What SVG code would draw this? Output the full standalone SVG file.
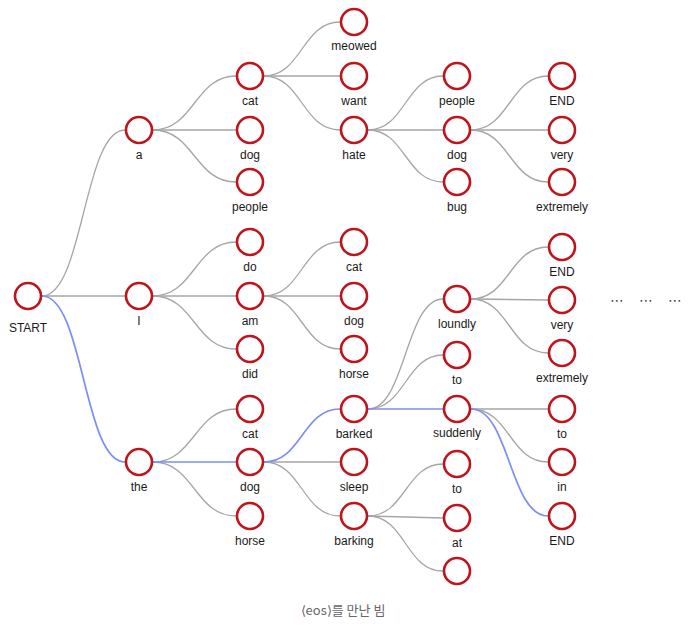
<svg xmlns="http://www.w3.org/2000/svg" width="693" height="627" viewBox="0 0 693 627">
<style>
.e{fill:none;stroke:#a6a6a6;stroke-width:1.3}
.b{fill:none;stroke:#7b8ef7;stroke-width:1.7}
.n circle{fill:#fff;stroke:#c0141c;stroke-width:2.6}
.n text{font-family:"Liberation Sans",Arial,sans-serif;font-size:12px;fill:#1a1a1a;text-anchor:middle}
.cap{font-family:"Noto Sans CJK KR","Noto Sans",sans-serif;font-size:13px;fill:#666;text-anchor:middle}
.dots{font-family:"DejaVu Sans",sans-serif;font-size:14px;fill:#444;text-anchor:middle}
</style>
<rect width="693" height="627" fill="#fff"/>
<g id="connectors">
<path class="e" d="M42,296 C83.5,296 83.5,130 125,130"/>
<path class="e" d="M42,296 L125,296"/>
<path class="e" d="M153,130 C194.5,130 194.5,76 236,76"/>
<path class="e" d="M153,130 L236,130"/>
<path class="e" d="M153,130 C194.5,130 194.5,182 236,182"/>
<path class="e" d="M153,296 C194.5,296 194.5,242 236,242"/>
<path class="e" d="M153,296 L236,296"/>
<path class="e" d="M153,296 C194.5,296 194.5,349 236,349"/>
<path class="e" d="M153,462 C194.5,462 194.5,409 236,409"/>
<path class="e" d="M153,462 C194.5,462 194.5,516 236,516"/>
<path class="e" d="M264,76 C302,76 302,22 340,22"/>
<path class="e" d="M264,76 L340,76"/>
<path class="e" d="M264,76 C302,76 302,130 340,130"/>
<path class="e" d="M264,296 C302,296 302,242 340,242"/>
<path class="e" d="M264,296 L340,296"/>
<path class="e" d="M264,296 C302,296 302,349 340,349"/>
<path class="e" d="M264,462 L340,462"/>
<path class="e" d="M264,462 C302,462 302,516 340,516"/>
<path class="e" d="M368,130 C405.5,130 405.5,76 443,76"/>
<path class="e" d="M368,130 L443,130"/>
<path class="e" d="M368,130 C405.5,130 405.5,182 443,182"/>
<path class="e" d="M368,409 C405.5,409 405.5,299 443,299"/>
<path class="e" d="M368,409 C405.5,409 405.5,355 443,355"/>
<path class="e" d="M368,516 C405.5,516 405.5,464 443,464"/>
<path class="e" d="M368,516 L443,518"/>
<path class="e" d="M368,516 C405.5,516 405.5,571 443,571"/>
<path class="e" d="M471,130 C509.5,130 509.5,76 548,76"/>
<path class="e" d="M471,130 L548,130"/>
<path class="e" d="M471,130 C509.5,130 509.5,182 548,182"/>
<path class="e" d="M471,299 C509.5,299 509.5,247 548,247"/>
<path class="e" d="M471,299 L548,300"/>
<path class="e" d="M471,299 C509.5,299 509.5,353 548,353"/>
<path class="e" d="M471,409 L548,409"/>
<path class="e" d="M471,409 C509.5,409 509.5,462 548,462"/>
<path class="b" d="M42,296 C83.5,296 83.5,462 125,462"/>
<path class="b" d="M153,462 L236,462"/>
<path class="b" d="M264,462 C302,462 302,409 340,409"/>
<path class="b" d="M368,409 L443,409"/>
<path class="b" d="M471,409 C509.5,409 509.5,516 548,516"/>
</g>
<g id="n-start" class="n"><circle cx="28" cy="296" r="13"/><text x="28" y="332">START</text></g>
<g id="n-a" class="n"><circle cx="139" cy="130" r="13"/><text x="139" y="159">a</text></g>
<g id="n-i" class="n"><circle cx="139" cy="296" r="13"/><text x="139" y="325">I</text></g>
<g id="n-the" class="n"><circle cx="139" cy="462" r="13"/><text x="139" y="491">the</text></g>
<g id="n-a-cat" class="n"><circle cx="250" cy="76" r="13"/><text x="250" y="105">cat</text></g>
<g id="n-a-dog" class="n"><circle cx="250" cy="130" r="13"/><text x="250" y="159">dog</text></g>
<g id="n-a-people" class="n"><circle cx="250" cy="182" r="13"/><text x="250" y="211">people</text></g>
<g id="n-i-do" class="n"><circle cx="250" cy="242" r="13"/><text x="250" y="271">do</text></g>
<g id="n-i-am" class="n"><circle cx="250" cy="296" r="13"/><text x="250" y="325">am</text></g>
<g id="n-i-did" class="n"><circle cx="250" cy="349" r="13"/><text x="250" y="378">did</text></g>
<g id="n-the-cat" class="n"><circle cx="250" cy="409" r="13"/><text x="250" y="438">cat</text></g>
<g id="n-the-dog" class="n"><circle cx="250" cy="462" r="13"/><text x="250" y="491">dog</text></g>
<g id="n-the-horse" class="n"><circle cx="250" cy="516" r="13"/><text x="250" y="545">horse</text></g>
<g id="n-meowed" class="n"><circle cx="354" cy="22" r="13"/><text x="354" y="50">meowed</text></g>
<g id="n-want" class="n"><circle cx="354" cy="76" r="13"/><text x="354" y="105">want</text></g>
<g id="n-hate" class="n"><circle cx="354" cy="130" r="13"/><text x="354" y="159">hate</text></g>
<g id="n-am-cat" class="n"><circle cx="354" cy="242" r="13"/><text x="354" y="271">cat</text></g>
<g id="n-am-dog" class="n"><circle cx="354" cy="296" r="13"/><text x="354" y="325">dog</text></g>
<g id="n-am-horse" class="n"><circle cx="354" cy="349" r="13"/><text x="354" y="378">horse</text></g>
<g id="n-barked" class="n"><circle cx="354" cy="409" r="13"/><text x="354" y="438">barked</text></g>
<g id="n-sleep" class="n"><circle cx="354" cy="462" r="13"/><text x="354" y="491">sleep</text></g>
<g id="n-barking" class="n"><circle cx="354" cy="516" r="13"/><text x="354" y="545">barking</text></g>
<g id="n-hate-people" class="n"><circle cx="457" cy="76" r="13"/><text x="457" y="105">people</text></g>
<g id="n-hate-dog" class="n"><circle cx="457" cy="130" r="13"/><text x="457" y="159">dog</text></g>
<g id="n-hate-bug" class="n"><circle cx="457" cy="182" r="13"/><text x="457" y="211">bug</text></g>
<g id="n-loundly" class="n"><circle cx="457" cy="299" r="13"/><text x="457" y="328">loundly</text></g>
<g id="n-barked-to" class="n"><circle cx="457" cy="355" r="13"/><text x="457" y="384">to</text></g>
<g id="n-suddenly" class="n"><circle cx="457" cy="409" r="13"/><text x="457" y="437">suddenly</text></g>
<g id="n-barking-to" class="n"><circle cx="457" cy="464" r="13"/><text x="457" y="493">to</text></g>
<g id="n-barking-at" class="n"><circle cx="457" cy="518" r="13"/><text x="457" y="547">at</text></g>
<g id="n-barking-empty" class="n"><circle cx="457" cy="571" r="13"/></g>
<g id="n-end1" class="n"><circle cx="562" cy="76" r="13"/><text x="562" y="105">END</text></g>
<g id="n-very1" class="n"><circle cx="562" cy="130" r="13"/><text x="562" y="159">very</text></g>
<g id="n-extremely1" class="n"><circle cx="562" cy="182" r="13"/><text x="562" y="211">extremely</text></g>
<g id="n-end2" class="n"><circle cx="562" cy="247" r="13"/><text x="562" y="276">END</text></g>
<g id="n-very2" class="n"><circle cx="562" cy="300" r="13"/><text x="562" y="329">very</text></g>
<g id="n-extremely2" class="n"><circle cx="562" cy="353" r="13"/><text x="562" y="382">extremely</text></g>
<g id="n-to3" class="n"><circle cx="562" cy="409" r="13"/><text x="562" y="438">to</text></g>
<g id="n-in" class="n"><circle cx="562" cy="462" r="13"/><text x="562" y="491">in</text></g>
<g id="n-end3" class="n"><circle cx="562" cy="516" r="13"/><text x="562" y="545">END</text></g>
<g id="ellipsis">
<text class="dots" x="617" y="305">⋯</text>
<text class="dots" x="646" y="305">⋯</text>
<text class="dots" x="675" y="305">⋯</text>
</g>
<text class="cap" x="343" y="615">⟨eos⟩를 만난 빔</text>
</svg>
